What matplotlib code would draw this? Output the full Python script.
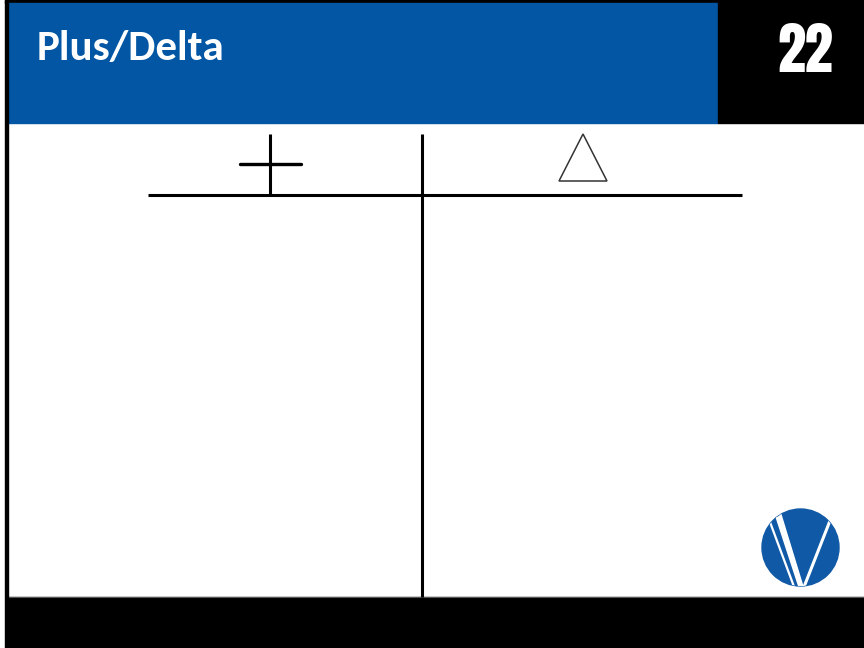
import matplotlib
matplotlib.use("Agg")
import matplotlib.pyplot as plt
from matplotlib.patches import Rectangle, Circle, Polygon

# ---- content ----
title_text = "Plus/Delta"
page_number = "22"

# ---- colours ----
blue = "#0256a3"
logo_blue = "#1059a6"
black = "#000000"

fig = plt.figure(figsize=(8.64, 6.48), dpi=100)
ax = fig.add_axes([0, 0, 1, 1])
ax.set_xlim(0, 864)
ax.set_ylim(648, 0)
ax.axis("off")

# frame: top strip, left border, header, number box, bottom band
ax.add_patch(Rectangle((5, 0), 859, 3, color=black, zorder=1))
ax.add_patch(Rectangle((5, 0), 2.5, 648, color=black, zorder=3))
ax.add_patch(Rectangle((7, 3), 711, 120, color=blue, zorder=1))
ax.add_patch(Rectangle((718, 0), 146, 123, color=black, zorder=1))
ax.add_patch(Rectangle((6, 597), 858, 51, color=black, zorder=1))
ax.plot([6, 864], [597, 597], color="#555555", lw=0.8, zorder=2)

# header texts
ax.text(37, 60, title_text, color="white", fontsize=31, fontweight="bold",
        family=["Carlito", "Lato", "DejaVu Sans"], ha="left", va="baseline", zorder=4)
ax.text(805, 72, page_number, color="white", fontsize=40.5,
        family=["Anton", "DejaVu Sans"], ha="center", va="baseline", zorder=4)

# T-chart lines
lw = 2.2
ax.plot([148, 742], [195, 195], color=black, lw=lw, solid_capstyle="butt", zorder=2)
ax.plot([422, 422], [134, 597], color=black, lw=lw, solid_capstyle="butt", zorder=2)

# plus sign
ax.plot([270, 270], [134, 195], color=black, lw=lw, solid_capstyle="butt", zorder=2)
ax.plot([240, 301], [164, 164], color=black, lw=lw * 1.1, solid_capstyle="round", zorder=2)

# delta triangle
ax.add_patch(Polygon([(583, 134), (559, 181), (607, 181)], closed=True,
                     fill=False, edgecolor="#333333", lw=1.1, zorder=2))

# logo
circ = Circle((800.5, 547.5), 38.5, color=logo_blue, zorder=5)
ax.add_patch(circ)
clip = Circle((800.5, 547.5), 38.5, transform=ax.transData)
# thin left stripe
l1, = ax.plot([764, 796], [506, 592], color="white", lw=1.6, zorder=6)
l1.set_clip_path(clip)
# wedge
w = Polygon([(770.5, 500), (776.5, 500), (804, 590), (800, 590)], closed=True,
            color="white", zorder=6)
ax.add_patch(w)
w.set_clip_path(clip)
# right stripe
l2, = ax.plot([835, 802], [508, 592], color="white", lw=2.2, zorder=6)
l2.set_clip_path(clip)

fig.savefig("out.png", dpi=100)
